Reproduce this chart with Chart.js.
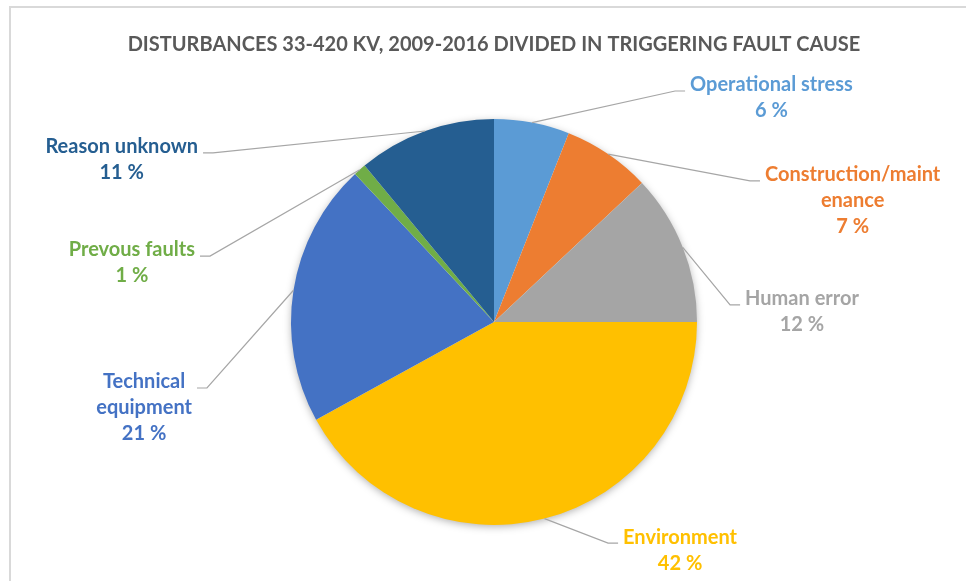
<!DOCTYPE html>
<html>
<head>
<meta charset="utf-8">
<script src="https://cdn.jsdelivr.net/npm/chart.js@4.4.1/dist/chart.umd.min.js"></script>
<style>
  html, body { margin: 0; padding: 0; background: #fff; }
  #wrap { position: relative; width: 966px; height: 581px; overflow: hidden; }
  #frame {
    position: absolute; left: 9px; top: 6px; width: 1000px; height: 600px;
    border-left: 2px solid #d9d9d9; border-top: 2px solid #d9d9d9;
  }
  canvas { position: absolute; left: 0; top: 0; }
</style>
</head>
<body>
<div id="wrap">
  <div id="frame"></div>
  <canvas id="fault-pie" width="966" height="581"></canvas>
</div>
<script>
// Fault causes, clockwise from 12 o'clock
const categories = [
  "Operational stress",
  "Construction/maintenance",
  "Human error",
  "Environment",
  "Technical equipment",
  "Prevous faults",
  "Reason unknown"
];
const shares = [6, 7, 12, 42, 21, 1, 11];

// How each callout name wraps in the box
const labelLines = [
  ["Operational stress"],
  ["Construction/maint", "enance"],
  ["Human error"],
  ["Environment"],
  ["Technical", "equipment"],
  ["Prevous faults"],
  ["Reason unknown"]
];

const chartTitle = "DISTURBANCES 33-420 KV, 2009-2016 DIVIDED IN TRIGGERING FAULT CAUSE";

const sliceColors = ["#5b9bd5", "#ed7d31", "#a5a5a5", "#ffc000", "#4472c4", "#70ad47", "#255e91"];

// Elbow of each leader line, relative to pie centre in radius units
const calloutElbows = [
  [0.892, -1.138],
  [1.261, -0.695],
  [1.163, -0.084],
  [0.562, 1.089],
  [-1.414, 0.325],
  [-1.399, -0.325],
  [-1.384, -0.833]
];

const labelFont = "bold 20px Lato";
const titleFont = "bold 20px Lato";
const lineGap = 26;

// soft drop shadow under the whole pie
const pieShadow = {
  id: "pieShadow",
  beforeDatasetsDraw(chart) {
    const arc = chart.getDatasetMeta(0).data[0];
    if (!arc) return;
    const ctx = chart.ctx;
    ctx.save();
    ctx.shadowColor = "rgba(0,0,0,0.35)";
    ctx.shadowBlur = 9;
    ctx.shadowOffsetY = 2;
    ctx.fillStyle = "#fff";
    ctx.beginPath();
    ctx.arc(arc.x, arc.y, arc.outerRadius - 1, 0, Math.PI * 2);
    ctx.fill();
    ctx.restore();
  }
};

// title, leader lines and outside labels
const callouts = {
  id: "callouts",
  afterDatasetsDraw(chart) {
    const ctx = chart.ctx;
    const meta = chart.getDatasetMeta(0);
    ctx.save();

    ctx.font = titleFont;
    ctx.fillStyle = "#595959";
    ctx.textAlign = "center";
    ctx.textBaseline = "middle";
    ctx.fillText(chartTitle, 494, 45);

    ctx.font = labelFont;
    meta.data.forEach((arc, i) => {
      const r = arc.outerRadius;
      const mid = (arc.startAngle + arc.endAngle) / 2;
      const sx = arc.x + Math.cos(mid) * r;
      const sy = arc.y + Math.sin(mid) * r;
      const ex = arc.x + calloutElbows[i][0] * r;
      const ey = arc.y + calloutElbows[i][1] * r;
      const dir = ex >= arc.x ? 1 : -1;
      const tx = ex + dir * 10;

      ctx.strokeStyle = "#a6a6a6";
      ctx.lineWidth = 1.2;
      ctx.beginPath();
      ctx.moveTo(sx, sy);
      ctx.lineTo(ex, ey);
      ctx.lineTo(tx, ey);
      ctx.stroke();

      const lines = labelLines[i].concat([shares[i] + " %"]);
      const w = Math.max(...lines.map(t => ctx.measureText(t).width));
      const cx = dir > 0 ? tx + 5 + w / 2 : tx - 5 - w / 2;
      ctx.fillStyle = sliceColors[i];
      lines.forEach((t, k) => {
        ctx.fillText(t, cx, ey - 6 + k * lineGap);
      });
    });
    ctx.restore();
  }
};

const ctx = document.getElementById("fault-pie").getContext("2d");
const faultChart = new Chart(ctx, {
  type: "pie",
  data: {
    labels: categories,
    datasets: [{
      data: shares,
      backgroundColor: sliceColors,
      borderWidth: 0
    }]
  },
  options: {
    responsive: false,
    animation: false,
    layout: { padding: { left: 291, right: 269, top: 119, bottom: 56 } },
    plugins: {
      legend: { display: false },
      tooltip: { enabled: false },
      title: { display: false }
    }
  },
  plugins: [pieShadow, callouts]
});
</script>
</body>
</html>
